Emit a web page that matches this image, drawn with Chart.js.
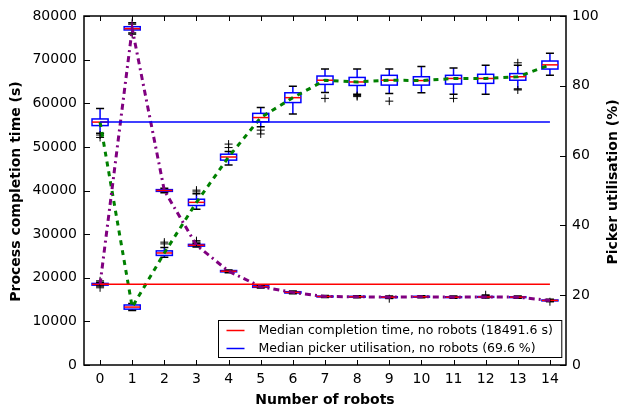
<!DOCTYPE html>
<html>
<head>
<meta charset="utf-8">
<script src="https://cdn.jsdelivr.net/npm/chart.js@4/dist/chart.umd.min.js"></script>
<style>
  html, body { margin: 0; padding: 0; background: #fff; }
  #wrap { width: 622px; height: 412px; }
</style>
</head>
<body>
<div id="wrap"><canvas id="c" width="622" height="412"></canvas></div>
<script>
// Number of robots on the x axis
const robots = [0, 1, 2, 3, 4, 5, 6, 7, 8, 9, 10, 11, 12, 13, 14];

// Process completion time (s): box plot statistics per robot count
const timeMed = [18490, 77100, 40000, 27450, 21500, 17950, 16650, 15700, 15650, 15550, 15650, 15550, 15600, 15550, 14800];
const timeQ1  = [18300, 76800, 39800, 27250, 21350, 17800, 16500, 15600, 15550, 15450, 15550, 15450, 15500, 15450, 14700];
const timeQ3  = [18700, 77550, 40200, 27650, 21650, 18150, 16800, 15800, 15750, 15650, 15750, 15650, 15700, 15650, 14900];
const timeLo  = [18100, 76100, 39500, 27050, 21150, 17650, 16350, 15450, 15400, 15300, 15400, 15300, 15350, 15300, 14550];
const timeHi  = [18950, 78150, 40500, 27900, 21800, 18300, 16950, 15950, 15900, 15800, 15900, 15800, 15850, 15800, 15050];
const timeOut = [[19300, 17700], [78500, 75800], [], [28200, 28500], [], [], [], [], [], [15200], [], [], [16100], [], [14500]];

// Picker utilisation (%): box plot statistics per robot count
const utilMed = [69.6, 16.6, 32.1, 46.6, 59.6, 70.9, 76.6, 81.6, 81.1, 81.6, 81.5, 82.1, 82.1, 82.6, 86.0];
const utilQ1  = [68.6, 16.0, 31.4, 45.7, 58.7, 69.7, 75.2, 80.4, 80.1, 80.2, 80.2, 80.5, 80.7, 81.6, 84.8];
const utilQ3  = [70.5, 17.2, 32.7, 47.5, 60.4, 72.1, 78.0, 82.8, 82.4, 83.0, 82.6, 83.0, 83.3, 83.5, 87.1];
const utilLo  = [66.4, 15.6, 30.9, 44.6, 57.3, 68.3, 71.9, 78.1, 77.6, 77.8, 78.0, 77.6, 77.6, 79.1, 83.0];
const utilHi  = [73.5, 17.6, 33.7, 49.1, 61.2, 73.8, 79.9, 84.8, 84.8, 84.8, 85.5, 85.1, 85.9, 85.9, 89.3];
const utilOut = [[65.9, 65.2], [], [34.7, 35.2], [49.6, 50.1], [62.3, 63.3], [67.3, 66.2], [], [76.4], [77.2, 76.9], [75.6], [], [76.4], [], [86.6, 78.8], []];

// Reference values without robots
const baseTime = 18491.6;
const baseUtil = 69.6;

// Axis tick values
const timeTicks = [0, 10000, 20000, 30000, 40000, 50000, 60000, 70000, 80000];
const utilTicks = [0, 20, 40, 60, 80, 100];

const FONT = "'DejaVu Sans', 'Liberation Sans', sans-serif";

const boxGroups = [
  { axis: 'y',  med: timeMed, q1: timeQ1, q3: timeQ3, lo: timeLo, hi: timeHi, out: timeOut },
  { axis: 'y2', med: utilMed, q1: utilQ1, q3: utilQ3, lo: utilLo, hi: utilHi, out: utilOut }
];

// Draws the box-and-whisker marks from the statistics arrays
const boxPlugin = {
  id: 'boxes',
  beforeDatasetsDraw(chart) {
    const ctx = chart.ctx;
    const xs = chart.scales.x;
    const half = Math.abs(xs.getPixelForValue(0.25) - xs.getPixelForValue(0));
    const cap = half / 2;
    ctx.save();
    boxGroups.forEach(g => {
      const ys = chart.scales[g.axis];
      robots.forEach((r, i) => {
        const x = xs.getPixelForValue(r);
        const pQ1 = ys.getPixelForValue(g.q1[i]);
        const pQ3 = ys.getPixelForValue(g.q3[i]);
        const pLo = ys.getPixelForValue(g.lo[i]);
        const pHi = ys.getPixelForValue(g.hi[i]);
        const pMed = ys.getPixelForValue(g.med[i]);
        ctx.lineWidth = 1.5;
        // whiskers
        ctx.strokeStyle = '#0000ff';
        ctx.beginPath();
        ctx.moveTo(x, pQ3); ctx.lineTo(x, pHi);
        ctx.moveTo(x, pQ1); ctx.lineTo(x, pLo);
        ctx.stroke();
        // box
        ctx.strokeRect(x - half, pQ3, 2 * half, pQ1 - pQ3);
        // caps
        ctx.strokeStyle = '#000000';
        ctx.beginPath();
        ctx.moveTo(x - cap, pHi); ctx.lineTo(x + cap, pHi);
        ctx.moveTo(x - cap, pLo); ctx.lineTo(x + cap, pLo);
        ctx.stroke();
        // median
        ctx.strokeStyle = '#ff0000';
        ctx.beginPath();
        ctx.moveTo(x - half, pMed); ctx.lineTo(x + half, pMed);
        ctx.stroke();
        // fliers
        ctx.strokeStyle = '#000000';
        ctx.lineWidth = 1;
        g.out[i].forEach(v => {
          const py = ys.getPixelForValue(v);
          ctx.beginPath();
          ctx.moveTo(x - 4, py); ctx.lineTo(x + 4, py);
          ctx.moveTo(x, py - 4); ctx.lineTo(x, py + 4);
          ctx.stroke();
        });
      });
    });
    ctx.restore();
  }
};

// Frame, inward tick marks, axis titles and the boxed legend
const framePlugin = {
  id: 'frame',
  afterDraw(chart) {
    const ctx = chart.ctx;
    const a = chart.chartArea;
    const xs = chart.scales.x, y1 = chart.scales.y, y2 = chart.scales.y2;
    ctx.save();
    ctx.strokeStyle = '#000';
    ctx.lineWidth = 1;
    ctx.beginPath();
    robots.forEach(r => {
      const x = Math.round(xs.getPixelForValue(r)) + 0.5;
      ctx.moveTo(x, a.bottom); ctx.lineTo(x, a.bottom - 5);
      ctx.moveTo(x, a.top); ctx.lineTo(x, a.top + 5);
    });
    timeTicks.forEach(v => {
      const y = Math.round(y1.getPixelForValue(v)) + 0.5;
      ctx.moveTo(a.left, y); ctx.lineTo(a.left + 6, y);
    });
    utilTicks.forEach(v => {
      const y = Math.round(y2.getPixelForValue(v)) + 0.5;
      ctx.moveTo(a.right, y); ctx.lineTo(a.right - 6, y);
    });
    ctx.stroke();
    ctx.lineWidth = 1.5;
    ctx.strokeRect(a.left, a.top, a.right - a.left, a.bottom - a.top);

    // axis titles
    ctx.fillStyle = '#000';
    ctx.font = 'bold 14px ' + FONT;
    ctx.textAlign = 'center';
    ctx.textBaseline = 'middle';
    ctx.fillText('Number of robots', (a.left + a.right) / 2, 400);
    ctx.save();
    ctx.translate(16.5, (a.top + a.bottom) / 2 + 1);
    ctx.rotate(-Math.PI / 2);
    ctx.fillText('Process completion time (s)', 0, 0);
    ctx.restore();
    ctx.save();
    ctx.translate(613, 182);
    ctx.rotate(-Math.PI / 2);
    ctx.fillText('Picker utilisation (%)', 0, 0);
    ctx.restore();

    // legend
    const items = chart.data.datasets.filter(d => d.inLegend);
    ctx.font = '12.5px ' + FONT;
    const tw = Math.max(...items.map(d => ctx.measureText(d.label).width));
    const w = 40 + tw + 9, h = 37;
    const lx = Math.round(a.right - 5 - w) + 0.5, ly = Math.round(a.bottom - 8 - h) + 0.5;
    ctx.fillStyle = '#fff';
    ctx.fillRect(lx, ly, w, h);
    ctx.strokeStyle = '#000';
    ctx.lineWidth = 1;
    ctx.strokeRect(lx, ly, w, h);
    ctx.textAlign = 'left';
    items.forEach((d, k) => {
      const ry = ly + 10 + k * 18;
      ctx.strokeStyle = d.borderColor;
      ctx.lineWidth = 1.5;
      ctx.beginPath();
      ctx.moveTo(lx + 8, ry); ctx.lineTo(lx + 26, ry);
      ctx.stroke();
      ctx.fillStyle = '#000';
      ctx.fillText(d.label, lx + 40, ry);
    });
    ctx.restore();
  }
};

const pts = (vals) => robots.map((r, i) => ({ x: r, y: vals[i] }));

new Chart(document.getElementById('c'), {
  type: 'line',
  data: {
    datasets: [
      {
        label: 'Median completion time, no robots (18491.6 s)',
        inLegend: true,
        data: [{ x: robots[0], y: baseTime }, { x: robots[robots.length - 1], y: baseTime }],
        yAxisID: 'y', borderColor: '#ff0000', borderWidth: 1.5, pointRadius: 0
      },
      {
        label: 'Median picker utilisation, no robots (69.6 %)',
        inLegend: true,
        data: [{ x: robots[0], y: baseUtil }, { x: robots[robots.length - 1], y: baseUtil }],
        yAxisID: 'y2', borderColor: '#0000ff', borderWidth: 1.5, pointRadius: 0
      },
      {
        label: 'Completion time median',
        data: pts(timeMed), yAxisID: 'y',
        borderColor: '#800080', borderWidth: 3, borderDash: [6, 4, 2, 4],
        pointRadius: 0, tension: 0
      },
      {
        label: 'Picker utilisation median',
        data: pts(utilMed), yAxisID: 'y2',
        borderColor: '#008000', borderWidth: 3, borderDash: [5, 5],
        pointRadius: 0, tension: 0
      }
    ]
  },
  options: {
    responsive: false,
    animation: false,
    layout: { padding: { top: 16, left: 0, right: 0, bottom: 0 } },
    plugins: { legend: { display: false }, tooltip: { enabled: false } },
    scales: {
      x: {
        type: 'linear', min: -0.5, max: 14.5,
        grid: { display: false, drawTicks: false },
        border: { display: false },
        afterBuildTicks: s => { s.ticks = robots.map(v => ({ value: v })); },
        afterFit: s => { s.height = 47; },
        ticks: { padding: 6, color: '#000', font: { family: FONT, size: 14 }, maxRotation: 0, callback: v => String(v) }
      },
      y: {
        type: 'linear', position: 'left', min: 0, max: 80000,
        grid: { display: false, drawTicks: false },
        border: { display: false },
        afterBuildTicks: s => { s.ticks = timeTicks.map(v => ({ value: v })); },
        afterFit: s => { s.width = 84; },
        ticks: { padding: 7, color: '#000', font: { family: FONT, size: 14 }, callback: v => String(v) }
      },
      y2: {
        type: 'linear', position: 'right', min: 0, max: 100,
        grid: { display: false, drawTicks: false },
        border: { display: false },
        afterBuildTicks: s => { s.ticks = utilTicks.map(v => ({ value: v })); },
        afterFit: s => { s.width = 56; },
        ticks: { padding: 6, color: '#000', font: { family: FONT, size: 14 }, callback: v => String(v) }
      }
    }
  },
  plugins: [boxPlugin, framePlugin]
});
</script>
</body>
</html>
